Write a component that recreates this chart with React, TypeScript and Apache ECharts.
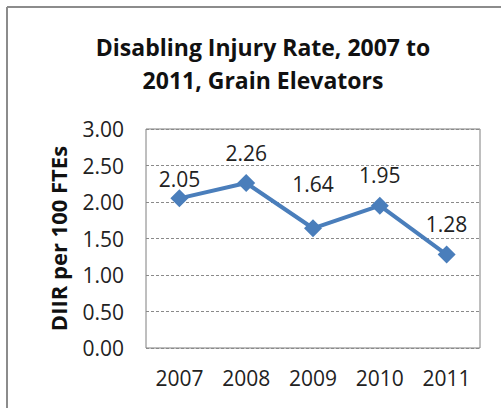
import React, { useEffect, useRef } from "react";
import * as echarts from "echarts";

const categories = ["2007", "2008", "2009", "2010", "2011"];
const values = [2.05, 2.26, 1.64, 1.95, 1.28];
const labelDistances = [0, 11, 25, 11, 11];
const titleLines = ["Disabling Injury Rate, 2007 to", "2011, Grain Elevators"];
const yAxisTitle = "DIIR per 100 FTEs";
const yMin = 0;
const yMax = 3;
const yStep = 0.5;

const FONT = "'Open Sans', 'Noto Sans', sans-serif";

export default function App() {
  const ref = useRef<HTMLDivElement>(null);
  useEffect(() => {
    const chart = echarts.init(ref.current!, null, { renderer: "svg" });
    chart.setOption({
      animation: false,
      backgroundColor: "#ffffff",
      title: {
        text: titleLines.join("\n"),
        left: 258,
        textAlign: "center",
        top: 25,
        textStyle: {
          fontFamily: FONT,
          fontWeight: "bold",
          fontSize: 23,
          lineHeight: 33,
          color: "#111111",
        },
      },
      grid: {
        left: 146,
        right: 21,
        top: 129,
        bottom: 60,
        show: true,
        borderColor: "#7f7f7f",
        borderWidth: 1,
      },
      xAxis: {
        type: "category",
        data: categories,
        boundaryGap: true,
        axisLine: { show: false },
        axisTick: { show: false },
        axisLabel: {
          fontFamily: FONT,
          fontSize: 21,
          color: "#222222",
          margin: 19,
        },
      },
      yAxis: {
        type: "value",
        min: yMin,
        max: yMax,
        interval: yStep,
        name: yAxisTitle,
        nameLocation: "middle",
        nameGap: 77,
        nameTextStyle: {
          fontFamily: FONT,
          fontWeight: "bold",
          fontSize: 22,
          color: "#111111",
        },
        axisLine: { show: false },
        axisTick: { show: false },
        axisLabel: {
          fontFamily: FONT,
          fontSize: 21,
          color: "#222222",
          margin: 22,
          formatter: (v: number) => v.toFixed(2),
        },
        splitLine: {
          lineStyle: { color: "#8a8a8a", type: [3, 2], width: 1 },
        },
      },
      series: [
        {
          type: "line",
          data: values.map((v, i) => ({
            value: v,
            label: { distance: labelDistances[i] },
          })),
          symbol: "diamond",
          symbolSize: 18,
          lineStyle: { color: "#4a7ebb", width: 4 },
          itemStyle: { color: "#4a7ebb" },
          label: {
            show: true,
            position: "top",
            distance: 11,
            fontFamily: FONT,
            fontSize: 21,
            color: "#222222",
            formatter: (p: any) => Number(p.value).toFixed(2),
          },
        },
      ],
      graphic: [
        {
          type: "line",
          shape: { x1: 7, y1: 7, x2: 501, y2: 7 },
          style: { stroke: "#8c8c8c", lineWidth: 2 },
        },
        {
          type: "line",
          shape: { x1: 7, y1: 7, x2: 7, y2: 408 },
          style: { stroke: "#8c8c8c", lineWidth: 2 },
        },
      ],
    });
    return () => chart.dispose();
  }, []);
  return (
    <div
      ref={ref}
      style={{ position: "fixed", left: 0, top: 0, width: 501, height: 408 }}
    />
  );
}
